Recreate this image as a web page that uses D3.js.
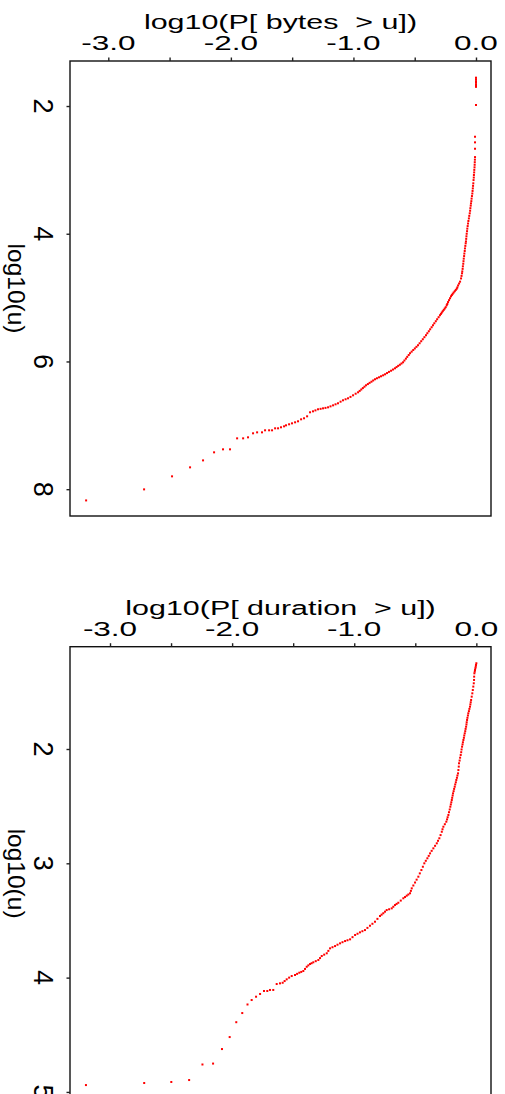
<!DOCTYPE html>
<html><head><meta charset="utf-8">
<script src="https://cdn.jsdelivr.net/npm/d3@7"></script>
<style>body{margin:0;background:#fff} text{font-family:"Liberation Sans",Arial,sans-serif; white-space:pre}</style>
</head><body><svg id="c" width="505" height="1094"></svg>
<script>
const xTicks = [-3.0,-2.5,-2.0,-1.5,-1.0,-0.5,0.0];
const xLabelTicks = [-3.0,-2.0,-1.0,0.0];
const bytesYTicks = [2,4,6,8];
const durationYTicks = [2,3,4,5];
const bytesTitle = "log10(P[ bytes  > u])";
const durationTitle = "log10(P[ duration  > u])";
const yTitle = "log10(u)";

// [log10 P, log10 u]
const bytesPoints = [
[-3.181,8.176],[-2.708,8.003],[-2.480,7.799],[-2.333,7.658],[-2.227,7.549],[-2.137,7.423],[-2.064,7.376],[-2.007,7.376],
[-1.949,7.204],[-1.900,7.204],[-1.860,7.188],[-1.819,7.125],[-1.786,7.110],[-1.746,7.110],[-1.721,7.078],[-1.688,7.078],
[-1.664,7.078],[-1.639,7.047],[-1.615,7.047],[-1.591,7.031],[-1.566,7.016],[-1.550,7.000],[-1.525,6.984],[-1.501,6.969],
[-1.476,6.953],[-1.452,6.937],[-1.427,6.906],[-1.403,6.890],[-1.378,6.859],[-1.354,6.796],[-1.330,6.781],[-1.310,6.766],
[-1.289,6.749],[-1.268,6.742],[-1.248,6.734],[-1.228,6.727],[-1.207,6.718],[-1.187,6.703],[-1.166,6.687],[-1.146,6.671],
[-1.126,6.655],[-1.105,6.630],[-1.085,6.608],[-1.064,6.592],[-1.044,6.577],[-1.024,6.555],[-1.003,6.530],[-0.982,6.505],
[-0.962,6.483],[-0.949,6.461],[-0.936,6.439],[-0.923,6.417],[-0.910,6.395],[-0.897,6.373],[-0.882,6.354],[-0.868,6.335],
[-0.853,6.317],[-0.839,6.298],[-0.824,6.279],[-0.808,6.263],[-0.791,6.248],[-0.775,6.232],[-0.758,6.217],[-0.742,6.201],
[-0.726,6.182],[-0.710,6.163],[-0.693,6.145],[-0.677,6.126],[-0.661,6.107],[-0.648,6.088],[-0.635,6.069],[-0.621,6.051],
[-0.608,6.032],[-0.595,6.013],[-0.584,5.985],[-0.572,5.956],[-0.561,5.928],[-0.549,5.899],[-0.538,5.871],[-0.525,5.846],
[-0.512,5.821],[-0.499,5.796],[-0.486,5.771],[-0.473,5.746],[-0.460,5.715],[-0.447,5.683],[-0.434,5.652],[-0.421,5.620],
[-0.408,5.589],[-0.397,5.558],[-0.385,5.527],[-0.374,5.496],[-0.362,5.464],[-0.351,5.433],[-0.340,5.402],[-0.328,5.370],
[-0.317,5.339],[-0.305,5.307],[-0.294,5.276],[-0.286,5.255],[-0.279,5.234],[-0.271,5.213],[-0.263,5.192],[-0.255,5.171],
[-0.247,5.150],[-0.239,5.120],[-0.234,5.100],[-0.228,5.070],[-0.220,5.040],[-0.212,5.010],[-0.204,4.980],[-0.197,4.960],
[-0.190,4.940],[-0.182,4.920],[-0.173,4.900],[-0.165,4.880],[-0.157,4.860],[-0.152,4.840],[-0.146,4.810],[-0.138,4.780],
[-0.130,4.750],[-0.122,4.700],[-0.118,4.660],[-0.114,4.620],[-0.112,4.590],[-0.109,4.550],[-0.107,4.510],[-0.104,4.470],
[-0.102,4.430],[-0.100,4.390],[-0.097,4.350],[-0.095,4.310],[-0.092,4.270],[-0.090,4.230],[-0.087,4.190],[-0.084,4.150],
[-0.082,4.120],[-0.080,4.080],[-0.078,4.040],[-0.076,4.000],[-0.073,3.960],[-0.071,3.920],[-0.068,3.880],[-0.065,3.840],
[-0.062,3.800],[-0.058,3.760],[-0.055,3.720],[-0.051,3.680],[-0.048,3.640],[-0.046,3.600],[-0.043,3.560],[-0.041,3.525],
[-0.038,3.490],[-0.036,3.450],[-0.033,3.410],[-0.030,3.370],[-0.028,3.330],[-0.026,3.290],[-0.024,3.250],[-0.022,3.210],
[-0.020,3.160],[-0.018,3.120],[-0.017,3.080],[-0.015,3.040],[-0.014,3.000],[-0.012,2.960],[-0.011,2.920],[-0.010,2.880],
[-0.009,2.840],[-0.008,2.800],[-0.008,2.669],[-0.008,2.569],[-0.008,2.481],[0,1.984],
[0,1.700],[0,1.680],[0,1.660],[0,1.635],[0,1.610],[0,1.580],[0,1.556]
];
const durationPoints = [
[-3.197,4.940],[-2.720,4.922],[-2.498,4.913],[-2.352,4.896],[-2.243,4.760],[-2.156,4.752],[-2.083,4.625],[-2.020,4.520],
[-1.966,4.390],[-1.917,4.310],[-1.874,4.235],
[-1.840,4.196],[-1.804,4.167],[-1.771,4.143],[-1.739,4.117],[-1.712,4.117],[-1.690,4.108],[-1.663,4.108],[-1.635,4.056],
[-1.608,4.050],[-1.586,4.045],[-1.570,4.030],[-1.553,4.015],[-1.533,4.000],[-1.512,3.986],[-1.485,3.977],[-1.468,3.967],
[-1.450,3.957],[-1.434,3.950],[-1.417,3.942],[-1.403,3.924],[-1.389,3.905],[-1.376,3.893],[-1.362,3.881],[-1.349,3.874],
[-1.335,3.866],[-1.315,3.856],[-1.294,3.846],[-1.280,3.829],[-1.266,3.811],[-1.246,3.799],[-1.225,3.787],[-1.212,3.766],
[-1.198,3.744],[-1.178,3.734],[-1.157,3.724],[-1.137,3.712],[-1.116,3.700],[-1.096,3.690],[-1.075,3.680],[-1.055,3.673],
[-1.034,3.665],[-1.014,3.646],[-0.993,3.627],[-0.973,3.616],[-0.953,3.604],[-0.933,3.594],[-0.912,3.584],[-0.892,3.565],
[-0.871,3.546],[-0.851,3.529],[-0.830,3.511],[-0.810,3.486],[-0.789,3.461],[-0.776,3.449],[-0.762,3.437],[-0.748,3.423],
[-0.734,3.409],[-0.714,3.402],[-0.693,3.394],[-0.680,3.380],[-0.666,3.365],[-0.653,3.355],[-0.639,3.345],[-0.619,3.326],
[-0.598,3.306],[-0.584,3.295],[-0.570,3.283],[-0.557,3.273],[-0.543,3.262],[-0.536,3.241],[-0.529,3.219],[-0.516,3.194],
[-0.502,3.168],[-0.489,3.143],[-0.475,3.117],[-0.463,3.088],[-0.450,3.059],[-0.438,3.030],[-0.426,3.000],[-0.414,2.978],
[-0.401,2.956],[-0.390,2.935],[-0.379,2.913],[-0.366,2.891],[-0.352,2.869],[-0.338,2.847],[-0.324,2.825],[-0.314,2.803],
[-0.303,2.781],[-0.293,2.753],[-0.283,2.724],[-0.277,2.702],[-0.270,2.680],[-0.258,2.658],[-0.246,2.636],[-0.240,2.616],
[-0.235,2.597],[-0.229,2.577],[-0.224,2.553],[-0.218,2.529],[-0.213,2.505],[-0.209,2.485],[-0.205,2.466],[-0.201,2.446],
[-0.198,2.427],[-0.194,2.407],[-0.191,2.388],[-0.186,2.369],[-0.182,2.349],[-0.177,2.330],[-0.173,2.310],[-0.168,2.291],
[-0.164,2.271],[-0.159,2.252],[-0.155,2.232],[-0.150,2.213],[-0.147,2.184],[-0.144,2.154],[-0.142,2.125],[-0.137,2.101],
[-0.133,2.076],[-0.128,2.052],[-0.124,2.028],[-0.121,2.004],[-0.117,1.980],[-0.113,1.960],[-0.110,1.941],[-0.106,1.921],
[-0.102,1.902],[-0.099,1.882],[-0.095,1.863],[-0.091,1.844],[-0.088,1.824],[-0.084,1.805],[-0.081,1.785],[-0.079,1.766],
[-0.076,1.746],[-0.073,1.727],[-0.069,1.707],[-0.066,1.688],[-0.061,1.669],[-0.057,1.649],[-0.052,1.630],[-0.049,1.610],
[-0.046,1.591],[-0.043,1.571],[-0.038,1.542],[-0.033,1.513],[-0.029,1.484],[-0.025,1.454],[-0.021,1.425],[-0.019,1.396],
[-0.018,1.367],[-0.016,1.338],[-0.013,1.323],[-0.011,1.309],[-0.008,1.294],[-0.005,1.280],[-0.003,1.265],[0.000,1.250]
];

const panels = [
  {title: bytesTitle, points: bytesPoints, yTicks: bytesYTicks,
   xDomain: [-3.3125, 0.1224], yDomain: [1.295, 8.42], top: 61, bottom: 516},
  {title: durationTitle, points: durationPoints, yTicks: durationYTicks,
   xDomain: [-3.3276, 0.120], yDomain: [1.105, 5.075], top: 646.7, bottom: 1100.5}
];
const left = 70, right = 491;
const svg = d3.select("#c");

panels.forEach(pn => {
  const x = d3.scaleLinear().domain(pn.xDomain).range([left, right]);
  const y = d3.scaleLinear().domain(pn.yDomain).range([pn.top, pn.bottom]);
  const g = svg.append("g");

  g.selectAll("rect.pt").data(pn.points).enter().append("rect")
    .attr("x", d => x(d[0]) - 1).attr("y", d => y(d[1]) - 1)
    .attr("width", 2).attr("height", 2).attr("fill", "#ff0000");

  g.append("rect").attr("x", left).attr("y", pn.top)
    .attr("width", right - left).attr("height", pn.bottom - pn.top)
    .attr("fill", "none").attr("stroke", "#111").attr("stroke-width", 1.4);

  const xa = d3.axisTop(x).tickValues(xTicks).tickSize(3.5).tickSizeOuter(0).tickFormat("");
  const gx = g.append("g").attr("transform", `translate(0,${pn.top})`).call(xa);
  gx.select(".domain").remove();
  gx.selectAll(".tick line").attr("stroke", "#222").attr("stroke-width", 1.4);
  g.selectAll("text.xl").data(xLabelTicks).enter().append("text")
    .attr("transform", d => `translate(${x(d)},${pn.top - 11}) scale(1.5,1)`)
    .attr("text-anchor", "middle").attr("font-size", 21).attr("fill", "#000")
    .text(d => d.toFixed(1));
  g.append("text")
    .attr("transform", `translate(${(left + right) / 2},${pn.top - 32}) scale(1.45,1)`)
    .attr("text-anchor", "middle").attr("font-size", 21).attr("fill", "#000")
    .text(pn.title);

  const ya = d3.axisLeft(y).tickValues(pn.yTicks).tickSize(3.5).tickSizeOuter(0).tickFormat("");
  const gy = g.append("g").attr("transform", `translate(${left},0)`).call(ya);
  gy.select(".domain").remove();
  gy.selectAll(".tick line").attr("stroke", "#222").attr("stroke-width", 1.4);
  g.selectAll("text.yl").data(pn.yTicks).enter().append("text")
    .attr("transform", d => `translate(33.5,${y(d)}) rotate(90)`)
    .attr("text-anchor", "middle").attr("font-size", 27).attr("fill", "#000")
    .text(d => d);
  g.append("text")
    .attr("transform", `translate(7.5,${(pn.top + pn.bottom) / 2}) rotate(90)`)
    .attr("text-anchor", "middle").attr("font-size", 24.5).attr("fill", "#000")
    .text(yTitle);
});
</script></body></html>
